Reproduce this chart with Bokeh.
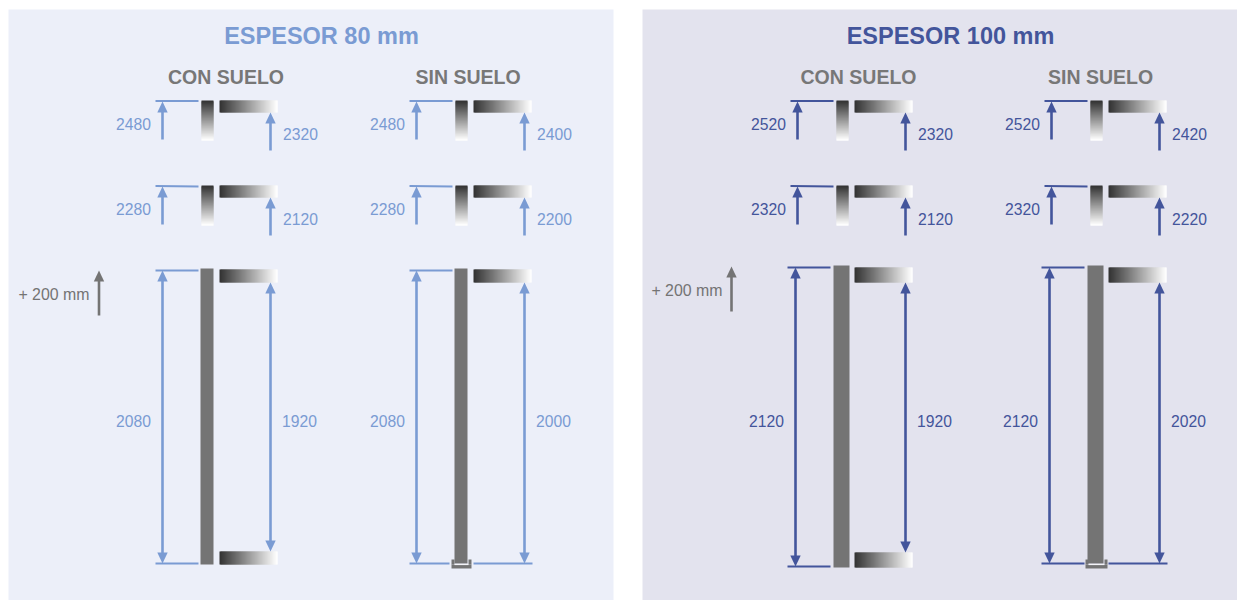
from bokeh.plotting import figure
from bokeh.models import Range1d
from bokeh.core.properties import value
from bokeh.embed import file_html
from bokeh.resources import INLINE

# ---- data: texts and dimensions (mm) ----
panel_titles = ["ESPESOR 80 mm", "ESPESOR 100 mm"]
variant_titles = ["CON SUELO", "SIN SUELO"]
increment_label = "+ 200 mm"
left_80_con = [2480, 2280, 2080]
right_80_con = [2320, 2120, 1920]
left_80_sin = [2480, 2280, 2080]
right_80_sin = [2400, 2200, 2000]
left_100_con = [2520, 2320, 2120]
right_100_con = [2320, 2120, 1920]
left_100_sin = [2520, 2320, 2120]
right_100_sin = [2420, 2220, 2020]

# ---- style ----
BLUE_L, BLUE_D, GREY = "#7A9BD3", "#43559B", "#747474"
FONT = value("Liberation Sans")

p = figure(width=1237, height=600, x_range=Range1d(0, 1237), y_range=Range1d(600, 0),
           output_backend="svg", toolbar_location=None, min_border=0,
           background_fill_color="white", border_fill_color="white", outline_line_color=None)
p.axis.visible = False
p.grid.visible = False

p.quad(left=[8, 642], right=[613, 1237], top=[9, 9], bottom=[600, 600],
       fill_color=["#ECEFF9", "#E3E3EE"], line_color=None)


def mix(t):
    v = int(round(0x33 + (0xFF - 0x33) * t))
    return f"#{v:02x}{v:02x}{v:02x}"


def grad_h(x0, x1, y0, y1):
    # each strip reaches one pixel under the next, so that no seam shows the panel through
    n = x1 - x0
    p.quad(left=[x0 + i for i in range(n)], right=[min(x0 + i + 2, x1) for i in range(n)],
           top=[y0] * n, bottom=[y1] * n,
           fill_color=[mix(i / (n - 1)) for i in range(n)], line_color=None)


def grad_v(x0, x1, y0, y1):
    n = y1 - y0
    p.quad(left=[x0] * n, right=[x1] * n,
           top=[y0 + i for i in range(n)], bottom=[min(y0 + i + 2, y1) for i in range(n)],
           fill_color=[mix(i / (n - 1)) for i in range(n)], line_color=None)


def head(x, tip, d, color, w=5.2, l=11):
    p.patch([x - w, x + w, x], [tip + d * l, tip + d * l, tip], fill_color=color, line_color=None)


def arrow(x, y0, y1, color, up=True, down=False, lw=2.6):
    """Shaft from y0 (top) to y1 (bottom) with heads at the chosen ends."""
    p.segment([x], [y0 + (5 if up else 0)], [x], [y1 - (5 if down else 0)], line_color=color, line_width=lw)
    if up:
        head(x, y0, 1, color)
    if down:
        head(x, y1, -1, color)


def label(x, y, txt, color, size="15.7px", bold=False, align="center"):
    p.text([x], [y - 1], text=[str(txt)], text_color=color, text_font=FONT, text_font_size=size,
           text_align=align, text_baseline="middle", text_font_style="bold" if bold else "normal")


def variant(v, lefts, rights, color, sin):
    """v holds the layout numbers of one CON/SIN SUELO column."""
    # two top-only details
    for k, dy in enumerate([0, 85]):
        yt = 100 + dy
        p.segment([v["l0"]], [yt + 0.5], [v["l1"]], [yt + 0.5 + (0.5 if k else 0)], line_color=color,
                  line_width=2.2 if k == 0 else 1.8)
        grad_v(v["p0s"], v["p1s"], yt, yt + 40)
        grad_h(v["h0"], v["h1"], yt, yt + 12)
        arrow(v["al"], yt + 1, yt + 39, color)
        arrow(v["ar"], yt + 12, yt + 50, color)
        label(v["tl"], yt + 24, lefts[k], color)
        label(v["tr"], yt + 34, rights[k], color)
    # full-height section
    t, b = v["top"], v["bot"]
    p.segment([v["l0"] + v["ldx"]], [t + 1], [v["l1"] + v["ldx"]], [t + 1], line_color=color, line_width=2.0)
    p.quad(left=[v["p0"]], right=[v["p1"]], top=[t - 1], bottom=[v["pb"]], fill_color=GREY, line_color=None)
    grad_h(v["h0"], v["h1"], v["ht"], 282)
    arrow(v["al3"], t + 1, b, color, up=True, down=True)
    if sin:
        p.segment([v["l0"] + v["ldx"], v["s0"]], [b, b], [v["s1"], v["s2"]], [b, b], line_color=color, line_width=2.2)
        arrow(v["ar"], 282, b, color, up=True, down=True)
        # floor channel
        bx0, bx1 = v["bx0"], v["bx1"]
        p.quad(left=[bx0], right=[bx1], top=[b + 1], bottom=[b + 5], fill_color=GREY, line_color=None)
        p.quad(left=[bx0, bx1 - 3], right=[bx0 + 3, bx1], top=[b - 4, b - 4], bottom=[b + 1, b + 1],
               fill_color=GREY, line_color=None)
        p.segment([bx0 + 3], [b + 1], [bx1 - 3], [b + 1], line_color="#F4F4F8", line_width=1.2)
    else:
        p.segment([v["l0"] + v["ldx"]], [b], [v["l1"] + v["ldx"]], [b], line_color=color, line_width=2.2)
        grad_h(v["h0"], v["h1"], v["bt"], v["pb"])
        arrow(v["ar"], 282, v["bt"], color, up=True, down=True)
    label(v["tl3"], 421, lefts[2], color)
    label(v["tr3"], 421, rights[2], color)


def layout(ox, wide, sin):
    base = dict(l0=155 + ox, l1=198 + ox, p0s=201 + ox, p1s=213 + ox, h0=219 + ox, h1=277 + ox,
                al=162 + ox, ar=270 + ox, tl=133 + ox, tr=300 + ox)
    if wide:
        base.update(top=266, bot=566, ht=267, bt=552, p0=198 + ox, p1=214 + ox, pb=567, ldx=-3,
                    al3=160 + ox, tl3=131 + ox, tr3=299 + ox)
    else:
        base.update(top=269, bot=563, ht=269, bt=551, p0=200 + ox, p1=213 + ox, pb=564, ldx=0,
                    al3=162 + ox, tl3=133 + ox, tr3=299 + ox)
    if sin:
        base.update(bot=563, pb=563, s0=219 + ox, s1=195 + ox, s2=278 + ox,
                    bx0=197 + ox - (1 if wide else 0), bx1=217 + ox + (1 if wide else 0))
    return base


variant(layout(0, False, False), left_80_con, right_80_con, BLUE_L, False)
variant(layout(254, False, True), left_80_sin, right_80_sin, BLUE_L, True)
variant(layout(635, True, False), left_100_con, right_100_con, BLUE_D, False)
variant(layout(889, True, True), left_100_sin, right_100_sin, BLUE_D, True)

# titles
label(321, 36, panel_titles[0], BLUE_L, "23.5px", True)
label(950, 36, panel_titles[1], BLUE_D, "23.5px", True)
for x, t in zip([225.5, 467.5, 858, 1100], variant_titles * 2):
    label(x, 77, t, "#777777", "19.5px", True)

# +200 mm markers
label(89, 295, increment_label, GREY, "15.9px", align="right")
arrow(98.5, 270, 315, GREY)
label(722, 291, increment_label, GREY, "15.9px", align="right")
arrow(731, 266, 311, GREY)

open("out.html", "w").write(file_html(p, INLINE))
